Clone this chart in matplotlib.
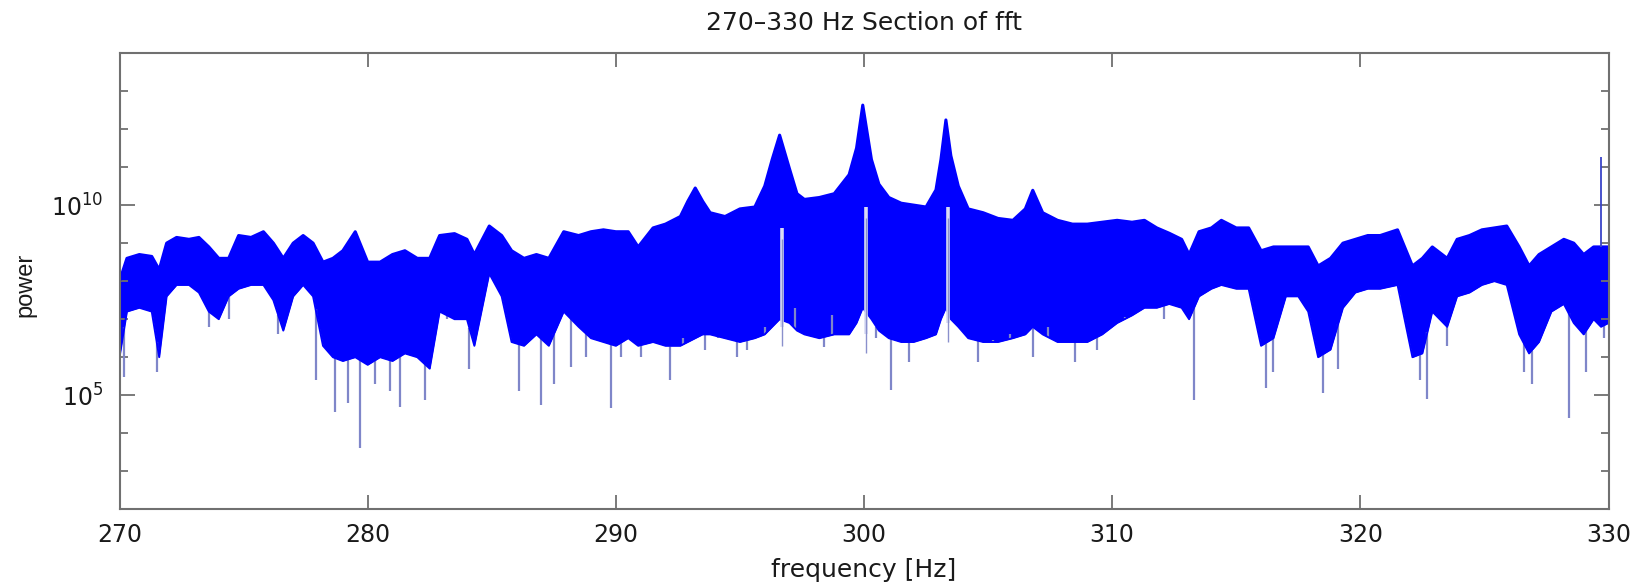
import numpy as np
import matplotlib
matplotlib.use("Agg")
import matplotlib.pyplot as plt

plt.rcParams['font.family'] = ['DejaVu Sans']
plt.rcParams['mathtext.fontset'] = 'dejavusans'

# ---- data (log10 of power) ----
freq = [270.0, 270.3, 270.8, 271.3, 271.6, 271.9, 272.3, 272.8, 273.2, 273.6,
        274.0, 274.4, 274.8, 275.3, 275.8, 276.2, 276.6, 277.0, 277.4, 277.8,
        278.2, 278.6, 279.0, 279.5, 280.0, 280.5, 281.0, 281.5, 282.0, 282.5,
        282.9, 283.5, 284.0, 284.3, 284.9, 285.4, 285.8, 286.3, 286.8, 287.3,
        287.9, 288.5, 289.0, 289.5, 290.0, 290.5, 290.9, 291.5, 292.0, 292.6,
        292.9, 293.2, 293.5, 293.8, 294.4, 295.0, 295.6, 296.0, 296.3, 296.6,
        297.0, 297.3, 297.6, 298.2, 298.8, 299.4, 299.7, 299.95, 300.3, 300.6,
        301.0, 301.5, 302.0, 302.5, 302.9, 303.1, 303.3, 303.5, 303.8, 304.2,
        304.8, 305.4, 306.0, 306.5, 306.8, 307.2, 307.8,
        308.4, 309.0, 309.6, 310.2, 310.8, 311.3, 311.8, 312.3, 312.8, 313.1,
        313.5, 314.0, 314.4, 315.0, 315.5, 316.0, 316.5, 317.0, 317.5, 317.9,
        318.3, 318.8, 319.3, 319.8, 320.3, 320.8, 321.5, 322.1, 322.5, 322.9,
        323.5, 323.9, 324.4, 324.9, 325.4, 325.9, 326.4, 326.8, 327.2, 327.7,
        328.2, 328.6, 329.0, 329.4, 329.7, 330.0]
upper_log = [8.0, 8.6, 8.7, 8.65, 8.3, 9.0, 9.15, 9.1, 9.15, 8.9,
             8.6, 8.6, 9.2, 9.15, 9.3, 9.0, 8.6, 9.0, 9.2, 9.0,
             8.5, 8.6, 8.8, 9.3, 8.5, 8.5, 8.7, 8.8, 8.6, 8.6,
             9.2, 9.25, 9.1, 8.7, 9.45, 9.2, 8.8, 8.6, 8.7, 8.6,
             9.3, 9.2, 9.3, 9.35, 9.3, 9.3, 8.9, 9.4, 9.5, 9.7,
             10.1, 10.45, 10.1, 9.8, 9.7, 9.9, 9.95, 10.5, 11.2, 11.84,
             10.95, 10.3, 10.15, 10.2, 10.3, 10.8, 11.5, 12.63, 11.2, 10.55,
             10.2, 10.05, 10.0, 9.95, 10.4, 11.2, 12.24, 11.3, 10.5, 9.9,
             9.8, 9.65, 9.6, 9.9, 10.39, 9.8, 9.6,
             9.5, 9.5, 9.55, 9.6, 9.55, 9.6, 9.4, 9.26, 9.1, 8.7,
             9.3, 9.4, 9.6, 9.4, 9.4, 8.8, 8.9, 8.9, 8.9, 8.9,
             8.4, 8.6, 9.0, 9.1, 9.2, 9.2, 9.35, 8.4, 8.6, 8.9,
             8.6, 9.1, 9.2, 9.35, 9.4, 9.45, 8.9, 8.4, 8.7, 8.9,
             9.1, 9.0, 8.7, 8.9, 8.9, 8.9]
lower_log = [6.0, 7.2, 7.3, 7.2, 6.0, 7.6, 7.9, 7.9, 7.7, 7.2,
             7.0, 7.6, 7.8, 7.9, 7.9, 7.5, 6.7, 7.6, 7.9, 7.6,
             6.3, 6.0, 5.9, 6.0, 5.8, 6.0, 5.9, 6.1, 6.0, 5.7,
             7.2, 7.0, 7.0, 6.3, 8.2, 7.6, 6.4, 6.3, 6.6, 6.3,
             7.2, 6.8, 6.5, 6.4, 6.3, 6.5, 6.3, 6.4, 6.3, 6.3,
             6.4, 6.5, 6.6, 6.6, 6.5, 6.4, 6.5, 6.6, 6.8, 7.0,
             6.9, 6.7, 6.6, 6.5, 6.6, 6.6, 6.9, 7.3, 7.0, 6.7,
             6.5, 6.4, 6.4, 6.5, 6.6, 7.0, 7.3, 7.0, 6.8, 6.5,
             6.4, 6.4, 6.5, 6.6, 6.8, 6.6, 6.4,
             6.4, 6.4, 6.6, 6.9, 7.1, 7.3, 7.3, 7.4, 7.3, 7.0,
             7.6, 7.8, 7.9, 7.8, 7.8, 6.3, 6.5, 7.6, 7.6, 7.2,
             6.0, 6.2, 7.3, 7.7, 7.8, 7.8, 7.9, 6.0, 6.1, 7.2,
             6.8, 7.6, 7.7, 7.9, 8.0, 7.9, 6.6, 6.1, 6.4, 7.2,
             7.4, 6.9, 6.6, 7.0, 6.8, 6.9]

# deep narrow dips below the dense band
dip_freq = [270.2, 271.5, 273.6, 274.4, 276.4, 277.9, 278.7, 279.2, 279.7, 280.3,
            280.9, 281.3, 282.3, 283.2, 284.1, 286.1, 287.0, 287.5, 288.2, 288.8,
            289.8, 290.2, 291.0, 292.2, 292.7, 293.6, 294.1, 294.9, 295.3, 296.0,
            297.2, 298.4, 298.7, 300.5, 301.1, 301.8, 303.4, 304.6, 305.2, 305.9,
            306.8, 307.4, 308.5, 309.4, 310.5, 312.1, 313.3, 316.2, 316.5, 318.5,
            319.1, 322.4, 322.7, 323.5, 326.6, 326.9, 328.4, 329.1, 329.8]
dip_log = [5.47, 5.6, 6.8, 7.0, 6.6, 5.4, 4.55, 4.8, 3.6, 5.3,
           5.1, 4.7, 4.87, 7.0, 5.7, 5.1, 4.75, 5.3, 5.75, 6.0,
           4.66, 6.0, 6.0, 5.4, 6.5, 6.2, 6.5, 6.0, 6.2, 6.8,
           7.3, 6.26, 7.1, 6.5, 5.13, 5.87, 7.1, 5.87, 6.45, 6.6,
           6.0, 6.8, 5.87, 6.2, 7.05, 7.0, 4.87, 5.18, 5.6, 5.05,
           5.7, 5.4, 4.9, 6.3, 5.6, 5.3, 4.4, 5.6, 6.5]
# narrow notches right under the three main peaks
notch_freq = [296.7, 300.1, 303.4]
notch_top_log = [9.4, 9.95, 9.95]
notch_bottom_log = [6.8, 6.6, 6.9]
# narrow spike near the right edge
spike_freq = [329.7]
spike_log = [11.27]

xticks = [270, 280, 290, 300, 310, 320, 330]

# ---- figure ----
fig = plt.figure(figsize=(16.44, 5.87), dpi=100)
ax = fig.add_axes([119.5 / 1644, 1 - 509.3 / 587, (1608.5 - 119.5) / 1644, (509.3 - 53) / 587])

f = np.array(freq)
up_l = np.array(upper_log)
lo_l = np.array(lower_log)

for fd, ld in zip(dip_freq, dip_log):
    base = 10.0 ** np.interp(fd, f, lo_l)
    ax.vlines(fd, 10.0 ** ld, base, color='#7f86c9', lw=1.6)

ax.fill_between(f, 10.0 ** lo_l, 10.0 ** up_l, color='#0000ff', lw=0)
ax.plot(f, 10.0 ** up_l, color='#0000ff', lw=2.2)
ax.plot(f, 10.0 ** lo_l, color='#0000ff', lw=1.4)
for fn, t, b in zip(notch_freq, notch_top_log, notch_bottom_log):
    ax.vlines(fn, 10.0 ** b, 10.0 ** t, color='#d8dbf4', lw=2.6)
    ax.vlines(fn, 10.0 ** (b - 0.5), 10.0 ** (t - 0.3), color='#8a90cc', lw=1.0)
for fs, ls in zip(spike_freq, spike_log):
    base = 10.0 ** np.interp(fs, f, up_l)
    ax.vlines(fs, base, 10.0 ** ls, color='#3a44c8', lw=1.3)

ax.set_yscale('log')
ax.set_xlim(270, 330)
ax.set_ylim(1e2, 1e14)

ax.set_xticks(xticks)
ax.set_xticklabels([str(t) for t in xticks])
ax.set_yticks([1e5, 1e10])
ax.set_yticklabels([r'$10^{5}$', r'$10^{10}$'])
ax.set_yticks([10.0 ** k for k in range(2, 15) if k not in (5, 10)], minor=True)
ax.yaxis.set_minor_formatter(matplotlib.ticker.NullFormatter())
ax.xaxis.set_minor_locator(matplotlib.ticker.NullLocator())

gray = '#707070'
for s in ax.spines.values():
    s.set_color(gray)
    s.set_linewidth(1.5)
ax.tick_params(axis='both', which='both', direction='in', top=True, right=True,
               color=gray, width=1.3, labelcolor='#1a1a1a', labelsize=17)
ax.tick_params(axis='x', which='major', length=10, pad=10)
ax.tick_params(axis='y', which='major', length=11, pad=12)
ax.tick_params(axis='y', which='minor', length=6)

fig.text(864 / 1644, 1 - 23 / 587, '270\u2013330 Hz Section of fft', ha='center', va='center',
         fontsize=18, color='#1a1a1a')
fig.text(864 / 1644, 1 - 570 / 587, 'frequency [Hz]', ha='center', va='center',
         fontsize=18, color='#1a1a1a')
fig.text(25.5 / 1644, 1 - 284.5 / 587, 'power', ha='center', va='center', rotation=90,
         fontsize=17, color='#1a1a1a', family='Liberation Sans')

fig.savefig('out.png', dpi=100)
